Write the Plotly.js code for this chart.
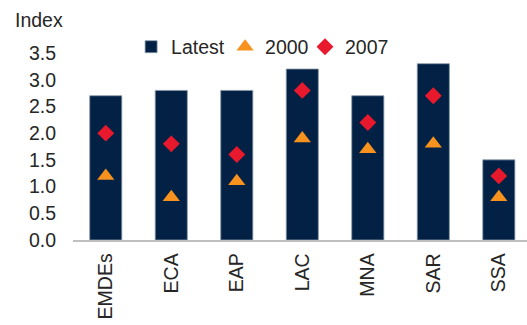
<!DOCTYPE html>
<html>
<head>
<meta charset="utf-8">
<script src="https://cdn.plot.ly/plotly-3.0.1.min.js"></script>
<style>html,body{margin:0;padding:0;background:#fff;}#chart{width:527px;height:325px;}</style>
</head>
<body>
<div id="chart"></div>
<script>
const categories = ["EMDEs", "ECA", "EAP", "LAC", "MNA", "SAR", "SSA"];
const latest = [2.7, 2.8, 2.8, 3.2, 2.7, 3.3, 1.5];
const y2000 = [1.2, 0.8, 1.1, 1.9, 1.7, 1.8, 0.8];
const y2007 = [2.0, 1.8, 1.6, 2.8, 2.2, 2.7, 1.2];
const yTicks = [0, 0.5, 1, 1.5, 2, 2.5, 3, 3.5];

const font = {family: "Liberation Sans, Arial, sans-serif", size: 19.5, color: "#262626"};

const traces = [
  {type: "bar", name: "Latest", x: categories, y: latest, legend: "legend",
   marker: {color: "#022144", line: {color: "#8a99aa", width: 0.8}}},
  {type: "scatter", mode: "markers", name: "2000", x: categories, y: y2000, legend: "legend2",
   marker: {symbol: "triangle-up", size: 15, color: "#F7921E"}},
  {type: "scatter", mode: "markers", name: "2007", x: categories, y: y2007, legend: "legend3",
   marker: {symbol: "diamond", size: 13, color: "#E8192C"}}
];

function leg(x) {
  return {orientation: "h", x: x, y: 1.032, xanchor: "left", yanchor: "middle",
          font: font, itemwidth: 30, bgcolor: "rgba(0,0,0,0)"};
}

const layout = {
  width: 527, height: 325,
  margin: {l: 73, r: 0, t: 53, b: 85, pad: 0},
  paper_bgcolor: "#fff", plot_bgcolor: "#fff",
  font: font,
  showlegend: true,
  bargap: 0.51,
  legend: leg(0.128),
  legend2: leg(0.335),
  legend3: leg(0.511),
  xaxis: {range: [-0.5, 6.43], tickangle: -90, showline: true, linecolor: "#bfbfbf",
          linewidth: 1.5, ticks: "", showgrid: false, zeroline: false, tickfont: font,
          ticklabelstandoff: 4},
  yaxis: {range: [0, 3.5], tickvals: yTicks, ticktext: yTicks.map(v => v.toFixed(1)),
          showgrid: false, zeroline: false, showline: false, ticks: "", tickfont: font,
          ticklabelstandoff: 16},
  annotations: [{text: "Index", xref: "paper", yref: "paper", x: -60/454, y: 1 + 33/187,
                 xanchor: "left", yanchor: "middle", showarrow: false, font: font}]
};

Plotly.newPlot("chart", traces, layout, {displayModeBar: false, staticPlot: true});
</script>
</body>
</html>
